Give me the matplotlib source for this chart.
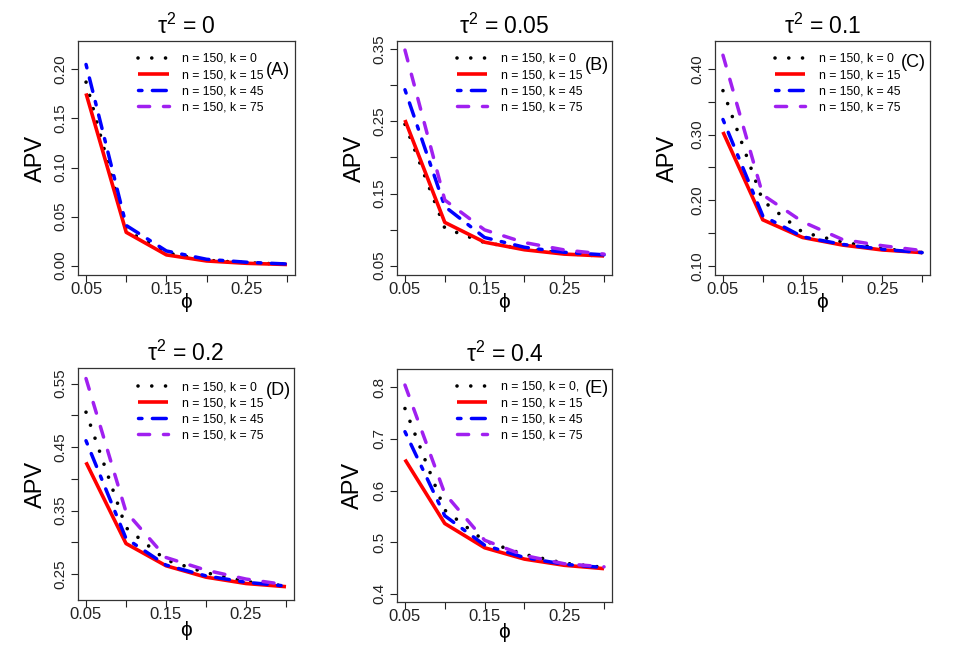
import matplotlib
matplotlib.use('Agg')
import matplotlib.pyplot as plt
from matplotlib.lines import Line2D

plt.rcParams['font.family'] = ['Liberation Sans', 'DejaVu Sans']
plt.rcParams['mathtext.fontset'] = 'custom'
plt.rcParams['mathtext.rm'] = 'Liberation Sans'
plt.rcParams['mathtext.it'] = 'Liberation Sans:italic'
plt.rcParams['mathtext.bf'] = 'Liberation Sans:bold'

# ---------------- data ----------------
phi = [0.05, 0.10, 0.15, 0.20, 0.25, 0.30]
phi_ticks = [0.05, 0.10, 0.15, 0.20, 0.25, 0.30]
phi_ticklabels = ['0.05', '', '0.15', '', '0.25', '']

titles = [r'$\mathrm{\tau}^{2}$ = 0', r'$\mathrm{\tau}^{2}$ = 0.05', r'$\mathrm{\tau}^{2}$ = 0.1',
          r'$\mathrm{\tau}^{2}$ = 0.2', r'$\mathrm{\tau}^{2}$ = 0.4']
tags = ['(A)', '(B)', '(C)', '(D)', '(E)']
series_labels = ['n = 150, k = 0', 'n = 150, k = 15', 'n = 150, k = 45', 'n = 150, k = 75']
series_labels_E = ['n = 150, k = 0,', 'n = 150, k = 15', 'n = 150, k = 45', 'n = 150, k = 75']

# Panel A (tau^2 = 0)
A_k0 = [0.187, 0.036, 0.013, 0.0055, 0.003, 0.0015]
A_k15 = [0.1755, 0.034, 0.011, 0.0048, 0.0024, 0.0012]
A_k45 = [0.205, 0.041, 0.015, 0.0065, 0.0035, 0.0017]
A_k75 = None  # not visible in panel A
# Panel B (tau^2 = 0.05)
B_k0 = [0.246, 0.102, 0.082, 0.073, 0.067, 0.063]
B_k15 = [0.252, 0.110, 0.0825, 0.072, 0.066, 0.0634]
B_k45 = [0.294, 0.132, 0.089, 0.0755, 0.0685, 0.065]
B_k75 = [0.349, 0.141, 0.0996, 0.082, 0.0718, 0.066]
# Panel C (tau^2 = 0.1)
C_k0 = [0.367, 0.199, 0.151, 0.136, 0.126, 0.120]
C_k15 = [0.304, 0.170, 0.143, 0.1315, 0.124, 0.120]
C_k45 = [0.323, 0.176, 0.144, 0.1325, 0.125, 0.120]
C_k75 = [0.421, 0.208, 0.167, 0.140, 0.1305, 0.123]
# Panel D (tau^2 = 0.2)
D_k0 = [0.505, 0.323, 0.272, 0.252, 0.238, 0.231]
D_k15 = [0.426, 0.298, 0.263, 0.245, 0.235, 0.230]
D_k45 = [0.460, 0.306, 0.264, 0.247, 0.237, 0.231]
D_k75 = [0.558, 0.348, 0.276, 0.256, 0.242, 0.233]
# Panel E (tau^2 = 0.4)
E_k0 = [0.759, 0.562, 0.502, 0.476, 0.459, 0.451]
E_k15 = [0.660, 0.536, 0.489, 0.467, 0.455, 0.4485]
E_k45 = [0.714, 0.551, 0.494, 0.470, 0.457, 0.4505]
E_k75 = [0.8045, 0.594, 0.5036, 0.474, 0.458, 0.452]

A_yticks = [0.00, 0.05, 0.10, 0.15, 0.20]
A_ylabels = ['0.00', '0.05', '0.10', '0.15', '0.20']
B_yticks = [0.05, 0.10, 0.15, 0.20, 0.25, 0.30, 0.35]
B_ylabels = ['0.05', '', '0.15', '', '0.25', '', '0.35']
C_yticks = [0.10, 0.15, 0.20, 0.25, 0.30, 0.35, 0.40]
C_ylabels = ['0.10', '', '0.20', '', '0.30', '', '0.40']
D_yticks = [0.25, 0.30, 0.35, 0.40, 0.45, 0.50, 0.55]
D_ylabels = ['0.25', '', '0.35', '', '0.45', '', '0.55']
E_yticks = [0.4, 0.5, 0.6, 0.7, 0.8]
E_ylabels = ['0.4', '0.5', '0.6', '0.7', '0.8']

# ---------------- styles / layout ----------------
W, H = 954, 654
styles = [
    dict(color='black', lw=2.6, linestyle=(0, (0.01, 3.8)), dash_capstyle='round'),
    dict(color='#FF0000', lw=2.6, linestyle='-', solid_capstyle='butt'),
    dict(color='#0000FF', lw=2.5, linestyle=(0, (1.0, 3.0, 4.0, 3.0)), dash_capstyle='round'),
    dict(color='#A020F0', lw=2.5, linestyle=(0, (3.2, 4.0)), dash_capstyle='round'),
]

panels = [
    dict(rect=(78, 41, 295, 275), ylim=(-0.0095, 0.2289), yt=A_yticks, yl=A_ylabels,
         data=[A_k0, A_k15, A_k45, A_k75], labels=series_labels, tagpos=(0.92, 0.876),
         apv_x=35, phi_y=302),
    dict(rect=(397, 41, 612, 275), ylim=(0.037, 0.3616), yt=B_yticks, yl=B_ylabels,
         data=[B_k0, B_k15, B_k45, B_k75], labels=series_labels, tagpos=(0.93, 0.897),
         apv_x=354, phi_y=302),
    dict(rect=(715, 41, 930, 275), ylim=(0.0858, 0.4427), yt=C_yticks, yl=C_ylabels,
         data=[C_k0, C_k15, C_k45, C_k75], labels=series_labels, tagpos=(0.921, 0.906),
         apv_x=667, phi_y=302),
    dict(rect=(78, 368, 294, 600), ylim=(0.209, 0.5746), yt=D_yticks, yl=D_ylabels,
         data=[D_k0, D_k15, D_k45, D_k75], labels=series_labels, tagpos=(0.926, 0.905),
         apv_x=35, phi_y=630),
    dict(rect=(397, 369, 612, 602), ylim=(0.3838, 0.8356), yt=E_yticks, yl=E_ylabels,
         data=[E_k0, E_k15, E_k45, E_k75], labels=series_labels_E, tagpos=(0.93, 0.918),
         apv_x=352, phi_y=632),
]

fig = plt.figure(figsize=(W / 100, H / 100), dpi=100)
fig.patch.set_facecolor('white')

for i, p in enumerate(panels):
    l, t, r, b = p['rect']
    ax = fig.add_axes([l / W, 1 - b / H, (r - l) / W, (b - t) / H])
    for sty, ys in zip(styles, p['data']):
        if ys is not None:
            ax.plot(phi, ys, **sty)
    ax.set_xlim(0.04, 0.31)
    ax.set_ylim(*p['ylim'])
    ax.set_xticks(phi_ticks, phi_ticklabels)
    ax.set_yticks(p['yt'], p['yl'])
    ax.tick_params(axis='x', direction='out', length=5, width=0.8, labelsize=12, pad=0, colors='#222222')
    ax.tick_params(axis='y', direction='out', length=5, width=0.8, labelsize=11, pad=3, colors='#222222')
    for lab in ax.get_yticklabels():
        lab.set_rotation(90)
        lab.set_va('center')
        lab.set_ha('right')
    for s in ax.spines.values():
        s.set_linewidth(0.9)
        s.set_color('#333333')
    ax.set_title(titles[i], fontsize=16.5, pad=5)
    ax.set_ylabel('APV', fontsize=17)
    ax.set_xlabel('ϕ', fontsize=15)
    wpx, hpx = r - l, b - t
    ax.yaxis.set_label_coords(-(l - (p['apv_x'] + 12)) / wpx, 0.5)
    ax.xaxis.set_label_coords(0.5, -(p['phi_y'] - 9 - b) / hpx)
    ax.text(p['tagpos'][0], p['tagpos'][1], tags[i], transform=ax.transAxes,
            ha='center', va='center', fontsize=13)
    handles = [Line2D([], [], **sty) for sty in styles]
    row1 = 57 if i < 3 else 385
    top_frac = 1 - (row1 - 4 - t) / hpx
    leg = ax.legend(handles, p['labels'], loc='upper left',
                    bbox_to_anchor=(0.277, top_frac), frameon=False,
                    fontsize=8.8, handlelength=2.5, handletextpad=1.1,
                    labelspacing=0.33, borderpad=0, borderaxespad=0)

fig.savefig('out.png', dpi=100, facecolor='white')
